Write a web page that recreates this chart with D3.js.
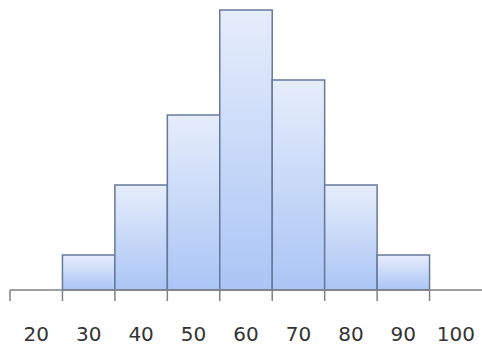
<!DOCTYPE html>
<html>
<head>
<meta charset="utf-8">
<script src="https://cdn.jsdelivr.net/npm/d3@7"></script>
<style>
  html, body { margin: 0; padding: 0; background: #fff; }
  svg { display: block; }
</style>
</head>
<body>
<svg id="chart" width="482" height="352"></svg>
<script>
// Score bins (category labels) and the count in each bin
const categories = ["20", "30", "40", "50", "60", "70", "80", "90", "100"];
const counts = [0, 1, 3, 5, 8, 6, 3, 1, 0];
const yMax = 8;

const svg = d3.select("#chart");
const left = 10, right = 482, baseY = 290, topY = 10;

const x = d3.scaleBand().domain(categories).range([left, right]).padding(0);
const y = d3.scaleLinear().domain([0, yMax]).range([baseY, topY]);

// Soft vertical gradient for the columns
const defs = svg.append("defs");
const grad = defs.append("linearGradient")
  .attr("id", "barFill")
  .attr("x1", 0).attr("y1", 0).attr("x2", 0).attr("y2", 1);
grad.append("stop").attr("offset", "0%").attr("stop-color", "#e6edfb");
grad.append("stop").attr("offset", "100%").attr("stop-color", "#aac5f5");

const data = categories.map((c, i) => ({ cat: c, value: counts[i] }));

svg.append("g")
  .selectAll("rect")
  .data(data.filter(d => d.value > 0))
  .join("rect")
  .attr("x", d => x(d.cat))
  .attr("y", d => y(d.value))
  .attr("width", x.bandwidth())
  .attr("height", d => y(0) - y(d.value))
  .attr("fill", "url(#barFill)")
  .attr("stroke", "#67799a")
  .attr("stroke-width", 1.5);

// Horizontal axis: line with tick marks at bin boundaries
const axisG = svg.append("g");
axisG.append("line")
  .attr("x1", left).attr("x2", right)
  .attr("y1", baseY).attr("y2", baseY)
  .attr("stroke", "#808080").attr("stroke-width", 1.5);

const boundaries = categories.map(c => x(c));
axisG.selectAll("line.tick")
  .data(boundaries)
  .join("line")
  .attr("class", "tick")
  .attr("x1", d => d).attr("x2", d => d)
  .attr("y1", baseY).attr("y2", baseY + 11)
  .attr("stroke", "#808080").attr("stroke-width", 1.5);

// Category labels centred under each bin
const labelAxis = d3.axisBottom(x).tickSize(0).tickPadding(0);
const lg = svg.append("g")
  .attr("transform", `translate(0, ${baseY + 37})`)
  .call(labelAxis);
lg.select(".domain").remove();
lg.selectAll("text")
  .attr("dy", "0.71em")
  .attr("y", 0)
  .style("font-family", "'DejaVu Sans', sans-serif")
  .style("font-size", "20px")
  .style("fill", "#333333");
</script>
</body>
</html>
